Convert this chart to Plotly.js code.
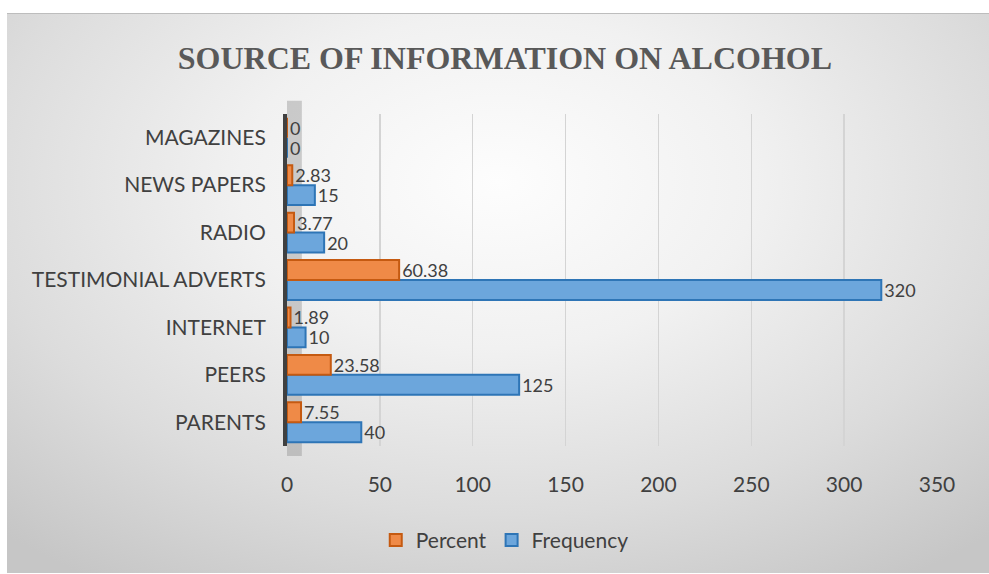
<!DOCTYPE html>
<html>
<head>
<meta charset="utf-8">
<script src="https://cdn.plot.ly/plotly-3.0.1.min.js"></script>
<style>
  html, body { margin: 0; padding: 0; background: #ffffff; width: 989px; height: 574px; overflow: hidden; }
  #wrap { position: absolute; left: 7px; top: 13px; width: 982px; height: 559px;
    background: radial-gradient(ellipse 75% 85% at 50% 30%, #fdfdfd 0%, #f1f1f1 35%, #dcdcdc 70%, #c6c6c6 100%);
    border-top: 1px solid #bdbdbd; }
  #chart { width: 982px; height: 559px; }
</style>
</head>
<body>
<div id="wrap"><div id="chart"></div></div>
<script>
const categories = ["PARENTS", "PEERS", "INTERNET", "TESTIMONIAL ADVERTS", "RADIO", "NEWS PAPERS", "MAGAZINES"];
const percentValues = [7.55, 23.58, 1.89, 60.38, 3.77, 2.83, 0];
const frequencyValues = [40, 125, 10, 320, 20, 15, 0];
const xTicks = [0, 50, 100, 150, 200, 250, 300, 350];

const labelFont = { family: "Lato, 'Open Sans', sans-serif", size: 21, color: "#404040" };
const dataFont = { family: "Lato, 'Open Sans', sans-serif", size: 18, color: "#404040" };

const traces = [
  {
    type: "bar", orientation: "h", name: "Frequency",
    y: categories, x: frequencyValues,
    text: frequencyValues.map(String), textposition: "outside", cliponaxis: false,
    constraintext: "none",
    textfont: dataFont,
    marker: { color: "#6CA6DC", line: { color: "#2E75B6", width: 2 } }
  },
  {
    type: "bar", orientation: "h", name: "Percent",
    y: categories, x: percentValues,
    text: percentValues.map(String), textposition: "outside", cliponaxis: false,
    constraintext: "none",
    textfont: dataFont,
    marker: { color: "#EF8A47", line: { color: "#C55A11", width: 2 } }
  }
];

const layout = {
  width: 982, height: 559,
  paper_bgcolor: "rgba(0,0,0,0)", plot_bgcolor: "rgba(0,0,0,0)",
  margin: { l: 280, r: 52, t: 100, b: 124 },
  barmode: "group", bargap: 0.16, bargroupgap: 0,
  title: {
    text: "<b>SOURCE OF INFORMATION ON ALCOHOL</b>",
    font: { family: "'Liberation Serif', 'Times New Roman', serif", size: 32, color: "#595959" },
    x: 0.507, xref: "container", xanchor: "center",
    y: 0.921, yref: "container", yanchor: "middle"
  },
  xaxis: {
    range: [0, 350], tickvals: xTicks, ticktext: xTicks.map(String),
    showgrid: true, gridcolor: "#d4d4d4", gridwidth: 1.5,
    zeroline: false, showline: false, ticks: "",
    ticklabelstandoff: 24,
    tickfont: labelFont, fixedrange: true
  },
  yaxis: {
    type: "category", categoryorder: "array", categoryarray: categories,
    range: [-0.5, 6.5],
    showgrid: false, zeroline: false,
    showline: true, linecolor: "#404040", linewidth: 4,
    ticks: "", ticklabelstandoff: 13,
    tickfont: labelFont, fixedrange: true
  },
  shapes: [
    { type: "rect", xref: "x", yref: "paper", x0: 0, x1: 8, y0: -0.03, y1: 1.04,
      fillcolor: "rgba(140,140,140,0.4)", line: { width: 0 }, layer: "below" }
  ],
  legend: {
    orientation: "h", traceorder: "reversed",
    x: 0.335, xanchor: "center", y: -0.284, yanchor: "middle",
    font: labelFont, bgcolor: "rgba(0,0,0,0)"
  },
  showlegend: true
};

Plotly.newPlot("chart", traces, layout, { displayModeBar: false, staticPlot: true });
</script>
</body>
</html>
